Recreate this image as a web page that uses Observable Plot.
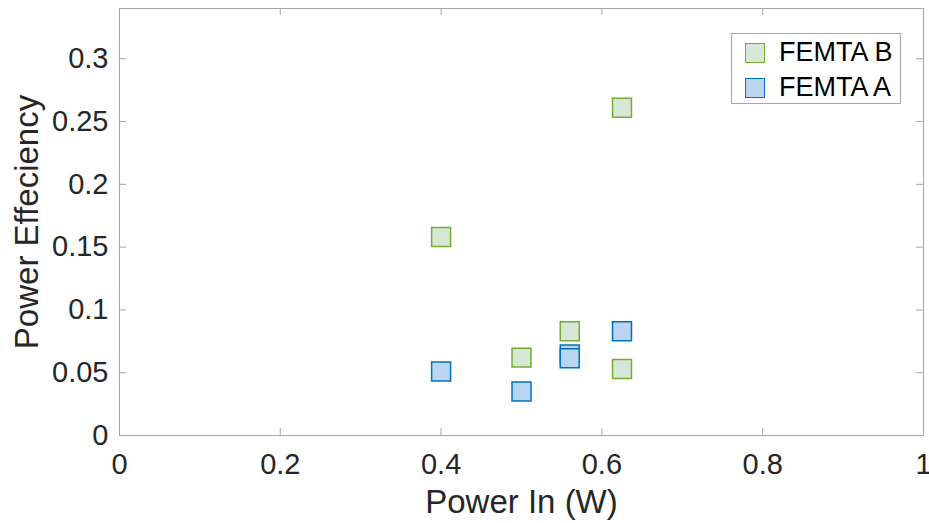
<!DOCTYPE html>
<html>
<head>
<meta charset="utf-8">
<script src="https://cdn.jsdelivr.net/npm/d3@7"></script>
<script src="https://cdn.jsdelivr.net/npm/@observablehq/plot@0.6"></script>
<style>
  html, body { margin: 0; padding: 0; background: #fff; }
  #chart { position: relative; width: 929px; height: 523px; font-family: "Liberation Sans", Arial, Helvetica, sans-serif; }
  #legend {
    position: absolute; left: 731px; top: 33px; width: 170px; height: 71px;
    border: 1px solid #a6a6a6; background: #fff; box-sizing: border-box;
  }
  .row { position: absolute; left: 0; height: 35px; }
  .swatch { position: absolute; left: 13px; width: 20px; height: 20px; box-sizing: border-box; border: 1.5px solid; }
  .lab { position: absolute; left: 47px; font-size: 27px; color: #000; white-space: nowrap; line-height: 35px; }
</style>
</head>
<body>
<div id="chart"></div>
<script>
// Measurements: input power (W) and resulting power efficiency
const seriesNames = ["FEMTA B", "FEMTA A"];
const powerB = [0.4, 0.5, 0.56, 0.625, 0.625];
const effB   = [0.158, 0.062, 0.083, 0.261, 0.053];
const powerA = [0.4, 0.5, 0.56, 0.56, 0.625];
const effA   = [0.051, 0.035, 0.0645, 0.0615, 0.083];

const xTicks = [0, 0.2, 0.4, 0.6, 0.8, 1];
const yTicks = [0, 0.05, 0.1, 0.15, 0.2, 0.25, 0.3];

const colors = {
  "FEMTA B": {stroke: "#77ac30", fill: "#d6e7d7"},
  "FEMTA A": {stroke: "#0072bd", fill: "#b9d5f2"}
};

const rows = [
  ...powerB.map((p, i) => ({series: "FEMTA B", power: p, eff: effB[i]})),
  ...powerA.map((p, i) => ({series: "FEMTA A", power: p, eff: effA[i]}))
];

const W = 929, H = 523;
const mL = 119, mR = 6, mT = 8, mB = 88;
const innerW = W - mL - mR, innerH = H - mT - mB;
const tickLen = 7;
const axisGray = "#a6a6a6";
const textColor = "#262626";
const fmt = d => String(+d.toFixed(2));

const chart = Plot.plot({
  width: W, height: H,
  marginLeft: mL, marginRight: mR, marginTop: mT, marginBottom: mB,
  style: {fontFamily: '"Liberation Sans", Arial, Helvetica, sans-serif', background: "#fff", overflow: "visible"},
  x: {domain: [0, 1]},
  y: {domain: [0, 0.34]},
  marks: [
    Plot.frame({stroke: axisGray}),
    // inward ticks on all four sides of the box
    Plot.tickY(yTicks, {y: d => d, stroke: axisGray, insetRight: innerW - tickLen}),
    Plot.tickY(yTicks, {y: d => d, stroke: axisGray, insetLeft: innerW - tickLen}),
    Plot.tickX(xTicks, {x: d => d, stroke: axisGray, insetTop: innerH - tickLen}),
    Plot.tickX(xTicks, {x: d => d, stroke: axisGray, insetBottom: innerH - tickLen}),
    Plot.axisX({ticks: xTicks, tickSize: 0, tickPadding: 18, tickFormat: fmt, fontSize: 29, fill: textColor, label: null}),
    Plot.axisY({ticks: yTicks, tickSize: 0, tickPadding: 11, tickFormat: fmt, fontSize: 29, fill: textColor, label: null}),
    Plot.text(["Power In (W)"], {frameAnchor: "bottom", text: d => d, textAnchor: "middle", lineAnchor: "bottom", dy: 77, fontSize: 33, fill: textColor}),
    Plot.text(["Power Effeciency"], {frameAnchor: "left", text: d => d, textAnchor: "middle", rotate: -90, lineAnchor: "bottom", dx: -82, fontSize: 33, fill: textColor}),
    Plot.dot(rows, {
      x: "power", y: "eff", symbol: "square", r: 10.7, strokeWidth: 1.5,
      stroke: d => colors[d.series].stroke,
      fill: d => colors[d.series].fill
    })
  ]
});

const root = document.getElementById("chart");
root.appendChild(chart);

// legend box in the upper right of the axes
const legend = document.createElement("div");
legend.id = "legend";
seriesNames.forEach((name, i) => {
  const row = document.createElement("div");
  row.className = "row";
  row.style.top = (1 + i * 35) + "px";
  const sw = document.createElement("div");
  sw.className = "swatch";
  sw.style.borderColor = colors[name].stroke;
  sw.style.background = colors[name].fill;
  sw.style.top = "8px";
  const lab = document.createElement("div");
  lab.className = "lab";
  lab.textContent = name;
  lab.style.top = "0px";
  row.appendChild(sw);
  row.appendChild(lab);
  legend.appendChild(row);
});
root.appendChild(legend);
</script>
</body>
</html>
